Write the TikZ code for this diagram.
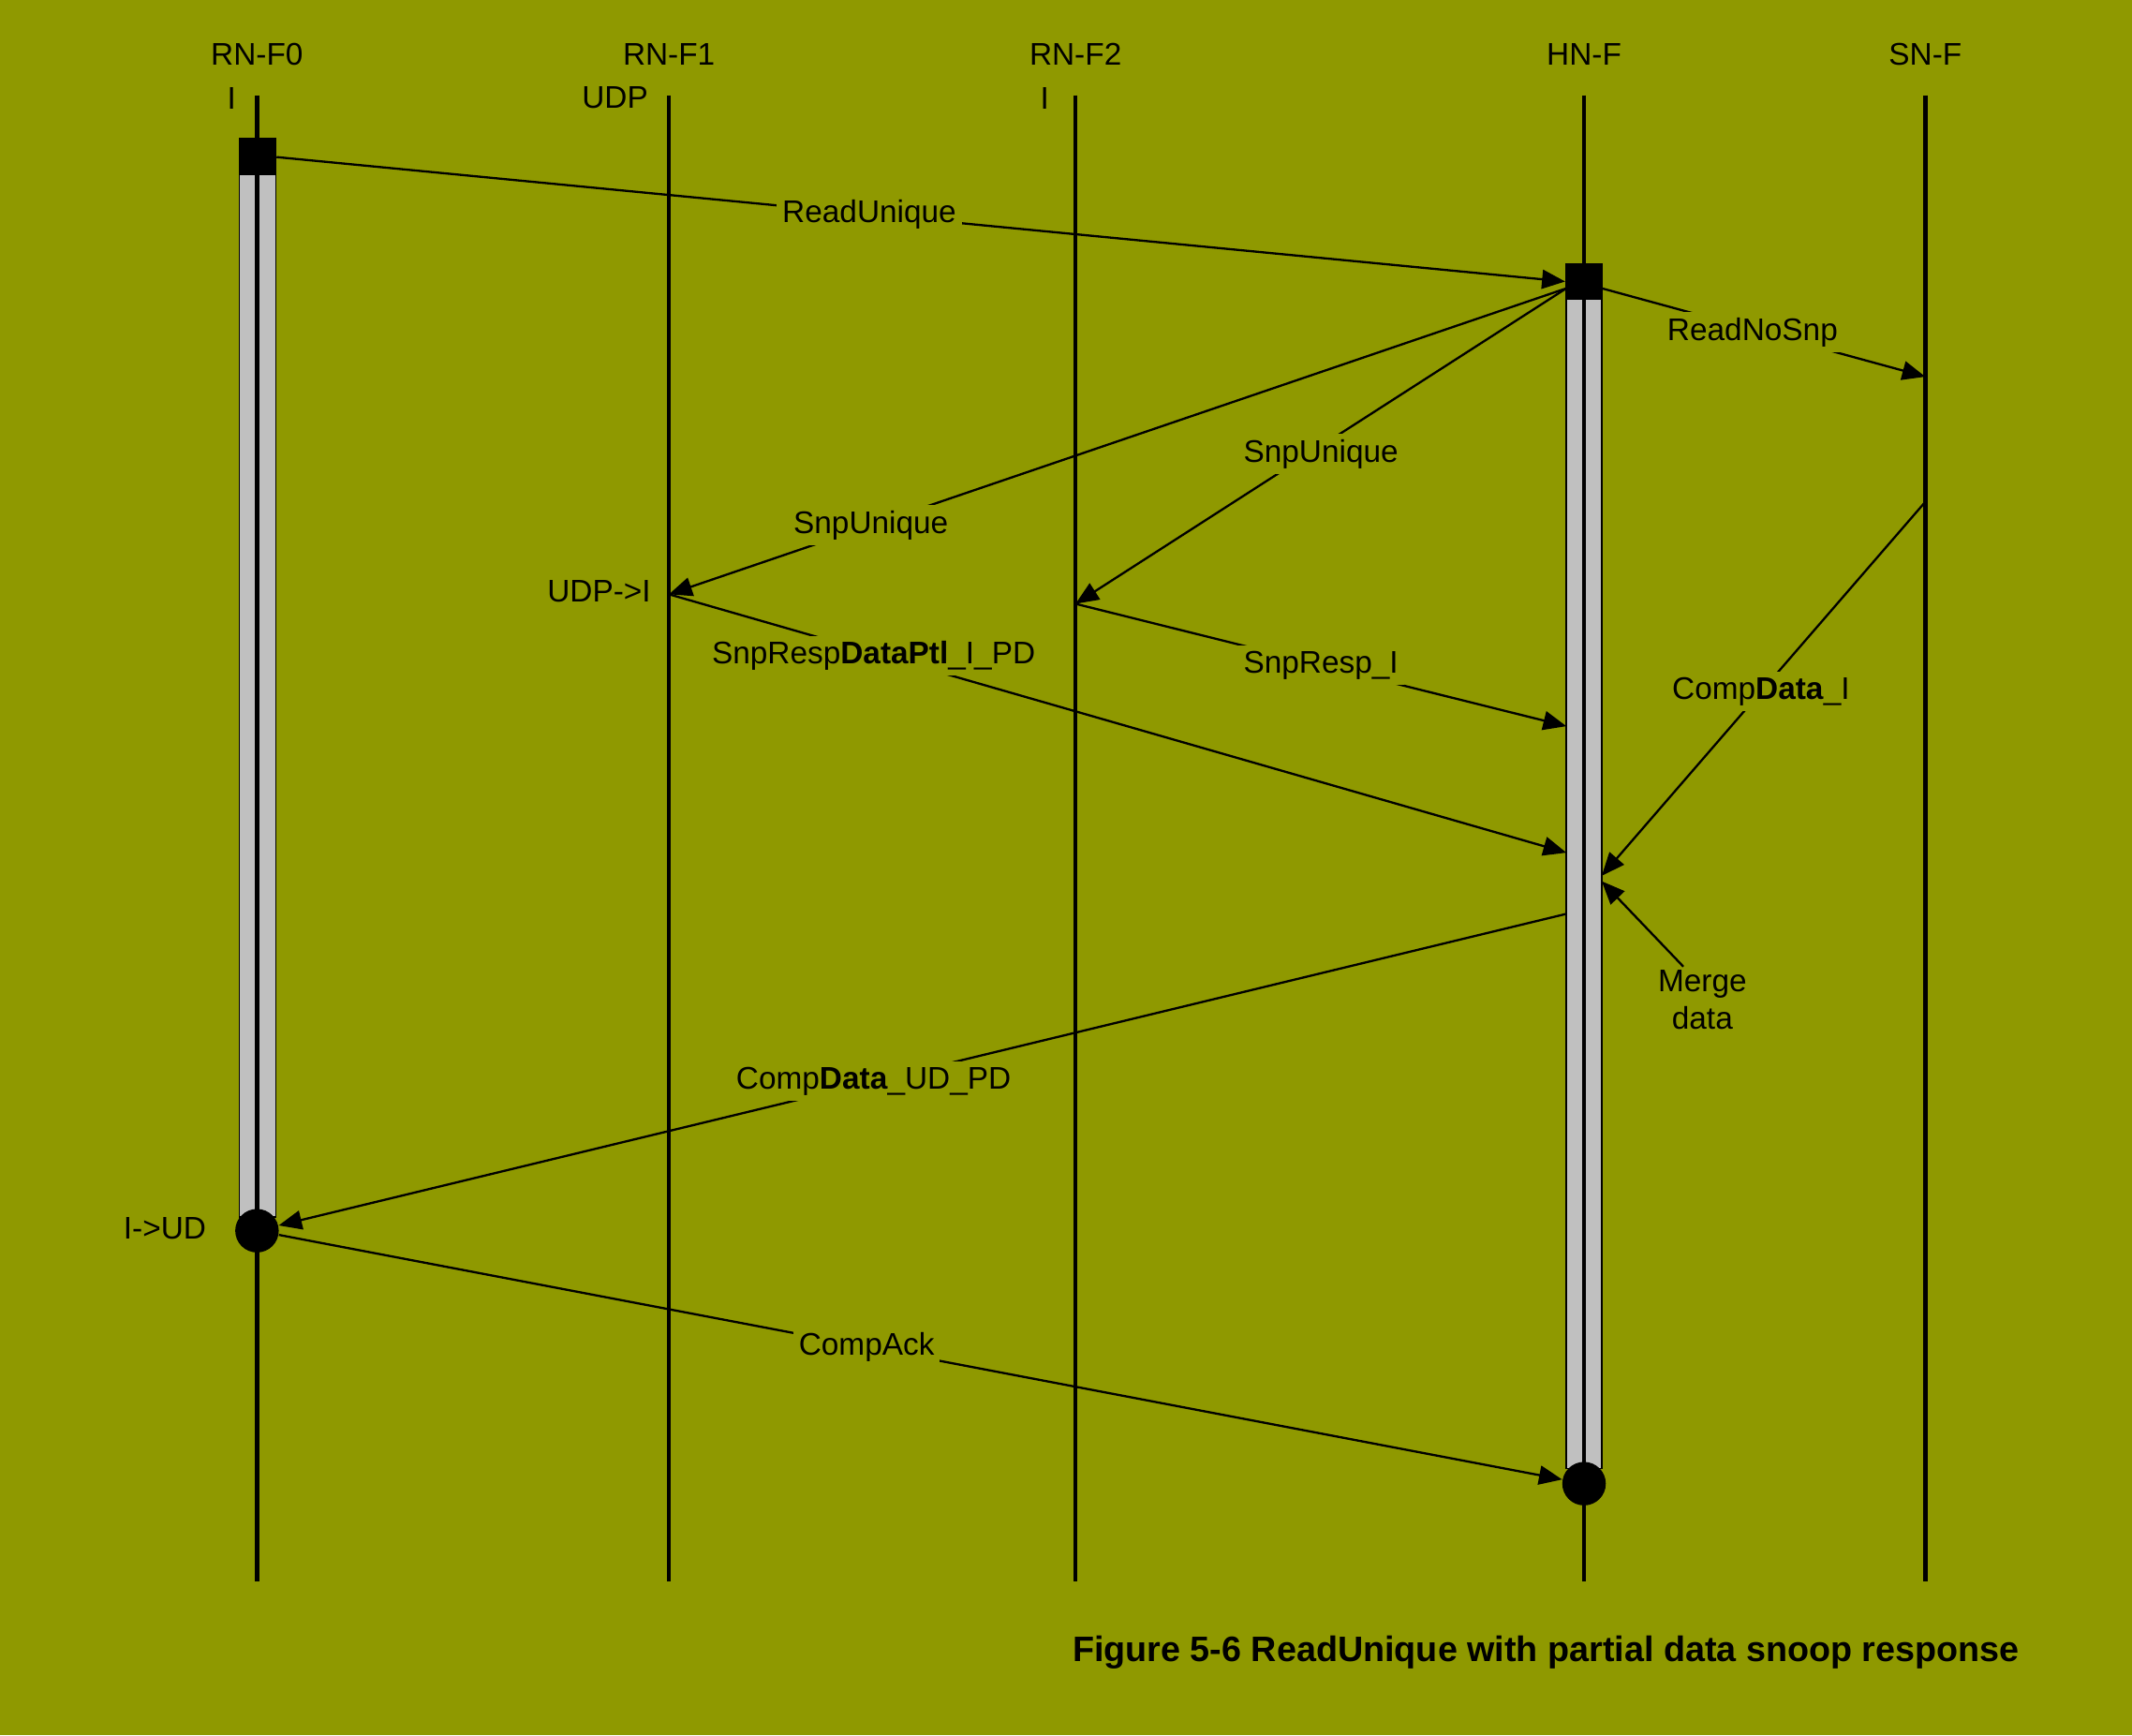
\documentclass[tikz,border=0pt]{standalone}
\usepackage{fontspec}
\setmainfont{Liberation Sans}
\usetikzlibrary{positioning,arrows.meta}
\definecolor{olivebg}{RGB}{143,153,0}
\definecolor{bargray}{RGB}{192,192,192}

\begin{document}
\begin{tikzpicture}[x=0.5pt, y=-0.5pt, font=\fontsize{11.5}{13.8}\selectfont,
                    life/.style={line width=1.5pt},
                    bar/.style={fill=bargray, draw=black, line width=0.5pt},
                    blk/.style={fill=black, draw=none, minimum size=13.5pt, inner sep=0pt},
                    dot/.style={circle, fill=black, draw=none, minimum size=16pt, inner sep=0pt},
                    msg/.style={line width=0.8pt, -{Triangle[length=8.5pt, width=7pt]}},
                    lbl/.style={fill=olivebg, inner sep=2pt},
                    st/.style={anchor=east, inner sep=1pt}]
  \fill[olivebg] (0,0) rectangle (1568,1276);
  \useasboundingbox (0,0) rectangle (1568,1276);
  % activation bars
  \draw[bar] (176,102) rectangle (203,895);
  \draw[bar] (1152,194) rectangle (1178,1080);
  % lifelines
  \foreach \x/\n/\t in {189/f0/RN-F0, 492/f1/RN-F1, 791/f2/RN-F2, 1165/hn/HN-F, 1416/sn/SN-F} {
    \node (\n) at (\x,40) {\t};
    \draw[life] (\x,70) -- (\x,1163);
  }
  \node[st] (s0) at (176,72) {I};
  \node[st] (s1) at (479,72) {UDP};
  \node[st] (s2) at (774,72) {I};
  \node[st] (s3) at (481,435) {UDP->I};
  \node[st] (s4) at (154,903) {I->UD};
  % requests and completions
  \node[blk] (rq) at (189.5,115.5) {};
  \node[blk] (hq) at (1165,207) {};
  \node[dot] (c0) at (189,905) {};
  \node[dot] (c4) at (1165,1091) {};
  \coordinate (sn-rd)   at (1416,277);
  \coordinate (sn-data) at (1416,369);
  \coordinate (f1-snp)  at (492,437);
  \coordinate (f2-snp)  at (791,444);
  \coordinate (hn-resp) at (1152,534);
  \coordinate (hn-ptl)  at (1152,627);
  \coordinate (hn-cd)   at (1178,644);
  \coordinate (hn-mrg)  at (1178,648);
  \coordinate (hn-out)  at (1152,672);
  \coordinate (hn-snp)  at (1152,212);
  \coordinate (hn-rns)  at (1178,212);
  \draw[msg] (rq.east) -- node[lbl, pos=0.46] {ReadUnique} (hq.west);
  \draw[msg] (hn-rns) -- node[lbl, pos=0.466, yshift=-1pt] {ReadNoSnp} (sn-rd);
  \draw[msg] (hn-snp) -- node[lbl, pos=0.775] {SnpUnique} (f1-snp);
  \draw[msg] (hn-snp) -- node[lbl, pos=0.5, yshift=-3pt] {SnpUnique} (f2-snp);
  \draw[msg] (f2-snp) -- node[lbl, pos=0.5] {SnpResp\_I} (hn-resp);
  \draw[msg] (f1-snp) -- node[lbl, pos=0.228, yshift=-1pt] {SnpResp\textbf{DataPtl}\_I\_PD} (hn-ptl);
  \draw[msg] (sn-data) -- node[lbl, pos=0.508] {Comp\textbf{Data}\_I} (hn-cd);
  \node[align=center, inner sep=1pt] (mrg) at (1252,735) {Merge\\data};
  \draw[msg] (mrg.120) -- (hn-mrg);
  \draw[msg] (hn-out) -- node[lbl, pos=0.538] {Comp\textbf{Data}\_UD\_PD} (c0);
  \draw[msg] (c0) -- node[lbl, pos=0.458] {CompAck} (c4);
  % caption
  \node[font=\fontsize{13}{15.6}\selectfont\bfseries] (cap) at (1137,1215)
    {Figure 5-6 ReadUnique with partial data snoop response};
\end{tikzpicture}
\end{document}
